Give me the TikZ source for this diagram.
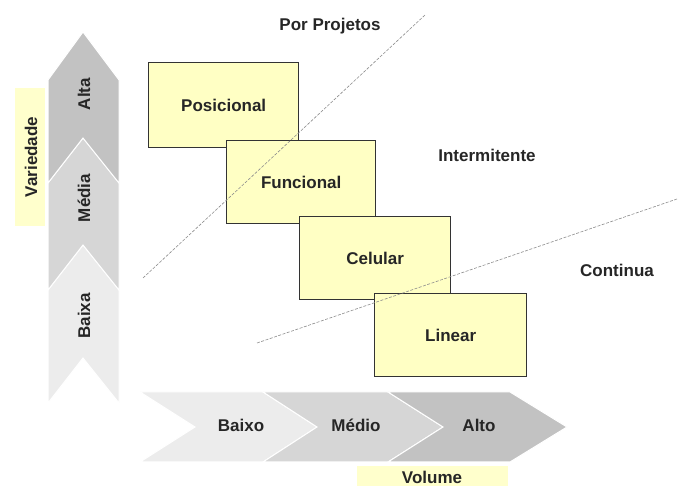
\documentclass[tikz,border=0pt]{standalone}
\usepackage{fontspec}
\setmainfont{Liberation Sans}
\begin{document}
\begin{tikzpicture}[x=1pt,y=-1pt,
  lbl/.style={font=\fontsize{17}{20}\selectfont\bfseries, text=black!85, inner sep=0pt},
  box/.style={draw=black!80, line width=1.4pt, fill=boxyellow, anchor=north west, inner sep=0pt},
  chev/.style={draw=white, line width=1pt},
  sep/.style={draw=black!45, line width=0.6pt, dash pattern=on 3pt off 1.5pt},
  tag/.style={fill=tagyellow, draw=none}]
\definecolor{boxyellow}{RGB}{255,255,196}
\definecolor{tagyellow}{RGB}{255,255,204}
\definecolor{c1}{RGB}{236,236,236}
\definecolor{c2}{RGB}{214,214,214}
\definecolor{c3}{RGB}{194,194,194}
\useasboundingbox[fill=white] (0,0) rectangle (678,486);
% vertical chevrons
\fill[c1,chev] (48,290) -- (83,245) -- (119,290) -- (119,403) -- (83,358) -- (48,403) -- cycle;
\fill[c2,chev] (48,183) -- (83,138) -- (119,183) -- (119,290) -- (83,245) -- (48,290) -- cycle;
\fill[c3,chev] (48,80) -- (83,32) -- (119,80) -- (119,183) -- (83,138) -- (48,183) -- cycle;
\node[lbl, rotate=90] (alta) at (84,94) {Alta};
\node[lbl, rotate=90] (media) at (84,198) {Média};
\node[lbl, rotate=90] (baixa) at (84,316) {Baixa};
% Variedade tag
\fill[tagyellow] (15,88) rectangle (45,226);
\node[lbl, rotate=90] (variedade) at (31,157) {Variedade};
% horizontal chevrons
\fill[c1,chev] (140,392) -- (195,427) -- (140,462) -- (263,462) -- (317,427) -- (263,392) -- cycle;
\fill[c2,chev] (263,392) -- (317,427) -- (263,462) -- (388,462) -- (443,427) -- (388,392) -- cycle;
\fill[c3,chev] (388,392) -- (443,427) -- (388,462) -- (510,462) -- (567,427) -- (510,392) -- cycle;
\node[lbl] (baixo) at (241,425) {Baixo};
\node[lbl] (medio) at (356,425) {Médio};
\node[lbl] (alto) at (479,425) {Alto};
% Volume tag
\fill[tagyellow] (357,466) rectangle (508,486);
\node[lbl] (volume) at (432,477) {Volume};
% boxes
\node[box, minimum width=150pt, minimum height=85pt] (posicional) at (148,62) {};
\node[lbl] at (posicional.center) {Posicional};
\node[box, minimum width=149pt, minimum height=83pt] (funcional) at (226,140) {};
\node[lbl] at (funcional.center) {Funcional};
\node[box, minimum width=151pt, minimum height=83pt] (celular) at (299,216) {};
\node[lbl] at (celular.center) {Celular};
\node[box, minimum width=152pt, minimum height=83pt] (linear) at (374,293) {};
\node[lbl] at (linear.center) {Linear};
% separating lines
\coordinate (l1a) at (143,278);
\coordinate (l1b) at (425,15);
\coordinate (l2a) at (257,343);
\coordinate (l2b) at (677,199);
\draw[sep] (l1a) -- (l1b);
\draw[sep] (l2a) -- (l2b);
% region labels
\node[lbl] (projetos) at (330,26) {Por Projetos};
\node[lbl] (intermitente) at (487,155) {Intermitente};
\node[lbl] (continua) at (617,270) {Continua};
\end{tikzpicture}
\end{document}
